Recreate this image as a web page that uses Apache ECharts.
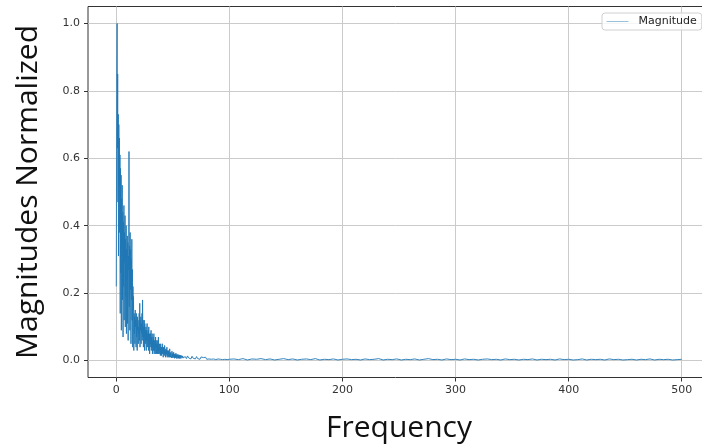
<!DOCTYPE html>
<html>
<head>
<meta charset="utf-8">
<title>Magnitude spectrum</title>
<script src="https://cdn.jsdelivr.net/npm/echarts@6/dist/echarts.min.js"></script>
<style>
  html, body { margin: 0; padding: 0; background: #fff; }
  #chart { width: 702px; height: 447px; }
</style>
</head>
<body>
<div id="chart"></div>
<script>
// tick labels
var xTicks = [0, 100, 200, 300, 400, 500];
var yTicks = [0.0, 0.2, 0.4, 0.6, 0.8, 1.0];

// 0 - 60 Hz, one bin every 0.25 Hz
var lowStart = 0, lowStep = 0.25;
var lowBand = [
  0.22, 0.58, 0.87, 1.00, 0.63, 0.85, 0.47, 0.73,
  0.31, 0.70, 0.52, 0.66, 0.38, 0.61, 0.14, 0.57,
  0.26, 0.55, 0.09, 0.48, 0.33, 0.52, 0.18, 0.44,
  0.07, 0.41, 0.22, 0.46, 0.12, 0.38, 0.29, 0.43,
  0.10, 0.36, 0.19, 0.40, 0.08, 0.33, 0.24, 0.37,
  0.11, 0.35, 0.06, 0.31, 0.27, 0.62, 0.16, 0.34,
  0.09, 0.38, 0.21, 0.33, 0.05, 0.30, 0.18, 0.36,
  0.12, 0.27, 0.04, 0.22, 0.15, 0.19, 0.03, 0.14,
  0.08, 0.13, 0.05, 0.15, 0.10, 0.12, 0.04, 0.14,
  0.07, 0.11, 0.03, 0.13, 0.09, 0.12, 0.05, 0.10,
  0.08, 0.14, 0.06, 0.17, 0.04, 0.12, 0.09, 0.13,
  0.05, 0.11, 0.08, 0.14, 0.06, 0.18, 0.07, 0.12,
  0.04, 0.10, 0.07, 0.12, 0.03, 0.11, 0.06, 0.09,
  0.05, 0.10, 0.03, 0.09, 0.06, 0.11, 0.04, 0.08,
  0.06, 0.09, 0.03, 0.10, 0.05, 0.08, 0.02, 0.07,
  0.04, 0.08, 0.05, 0.09, 0.03, 0.07, 0.04, 0.08,
  0.02, 0.06, 0.04, 0.07, 0.03, 0.08, 0.02, 0.06,
  0.03, 0.05, 0.02, 0.07, 0.04, 0.06, 0.02, 0.05,
  0.03, 0.06, 0.02, 0.05, 0.03, 0.07, 0.02, 0.04,
  0.02, 0.05, 0.03, 0.04, 0.015, 0.05, 0.02, 0.04,
  0.015, 0.04, 0.025, 0.05, 0.02, 0.035, 0.01, 0.04,
  0.02, 0.03, 0.015, 0.045, 0.02, 0.03, 0.01, 0.035,
  0.015, 0.03, 0.02, 0.04, 0.01, 0.03, 0.015, 0.025,
  0.01, 0.03, 0.015, 0.025, 0.01, 0.035, 0.012, 0.022,
  0.01, 0.025, 0.015, 0.02, 0.008, 0.028, 0.012, 0.02,
  0.008, 0.022, 0.012, 0.025, 0.009, 0.018, 0.007, 0.02,
  0.01, 0.018, 0.008, 0.022, 0.01, 0.016, 0.006, 0.019,
  0.009, 0.015, 0.007, 0.018, 0.008, 0.014, 0.006, 0.017,
  0.008, 0.014, 0.006, 0.016, 0.009, 0.013, 0.005, 0.015,
  0.007, 0.012, 0.006, 0.014, 0.008, 0.013, 0.005, 0.011,
  0.008
];

// 61 - 100 Hz, every 1 Hz
var midStart = 61, midStep = 1;
var midBand = [
  0.012, 0.006, 0.014, 0.008, 0.011, 0.005, 0.013, 0.007, 0.010, 0.005,
  0.012, 0.006, 0.009, 0.004, 0.011, 0.006, 0.009, 0.005, 0.010, 0.004,
  0.008, 0.005, 0.009, 0.004, 0.008, 0.005, 0.009, 0.003, 0.007, 0.005,
  0.008, 0.004, 0.007, 0.003, 0.008, 0.004, 0.006, 0.003, 0.007, 0.004
];

// 104 - 500 Hz, every 4 Hz
var tailStart = 104, tailStep = 4;
var tailBand = [
  0.005, 0.003, 0.006, 0.002, 0.005, 0.004, 0.006, 0.003, 0.005, 0.002,
  0.004, 0.006, 0.003, 0.005, 0.002, 0.004, 0.005, 0.003, 0.006, 0.002,
  0.004, 0.003, 0.005, 0.002, 0.004, 0.005, 0.003, 0.004, 0.002, 0.005,
  0.003, 0.004, 0.006, 0.002, 0.004, 0.003, 0.005, 0.002, 0.004, 0.003,
  0.005, 0.002, 0.004, 0.006, 0.003, 0.004, 0.002, 0.005, 0.003, 0.004,
  0.002, 0.005, 0.003, 0.004, 0.002, 0.004, 0.005, 0.003, 0.004, 0.002,
  0.005, 0.003, 0.004, 0.002, 0.004, 0.003, 0.005, 0.002, 0.004, 0.003,
  0.004, 0.002, 0.005, 0.003, 0.004, 0.002, 0.003, 0.005, 0.002, 0.004,
  0.003, 0.004, 0.002, 0.005, 0.003, 0.004, 0.002, 0.003, 0.004, 0.002,
  0.004, 0.003, 0.005, 0.002, 0.004, 0.003, 0.004, 0.002, 0.003, 0.004
];

var points = [];
function addBand(start, step, values) {
  for (var i = 0; i < values.length; i++) {
    points.push([start + i * step, values[i]]);
  }
}
addBand(lowStart, lowStep, lowBand);
addBand(midStart, midStep, midBand);
addBand(tailStart, tailStep, tailBand);

var dom = document.getElementById("chart");
var myChart = echarts.init(dom, null, { renderer: 'canvas' });
var labelFont = "'DejaVu Sans', sans-serif";
var bigFont = "'Open Sans', sans-serif";

var option = {
  animation: false,
  backgroundColor: '#fff',
  grid: {
    left: 88, top: 6.5, width: 622, height: 371,
    outerBoundsMode: 'none',
    containLabel: false,
    show: true, borderColor: '#333', borderWidth: 1
  },
  legend: {
    left: 602, top: 13,
    padding: [3, 5, 3, 4],
    itemWidth: 22, itemHeight: 12,
    borderColor: '#d0d0d0', borderWidth: 1, borderRadius: 3,
    backgroundColor: 'rgba(255,255,255,0.8)',
    itemStyle: { opacity: 0 },
    lineStyle: { color: 'inherit', width: 1, opacity: 0.45 },
    textStyle: { fontFamily: labelFont, fontSize: 11, color: '#222', padding: [0, 0, 0, 5] },
    data: ['Magnitude']
  },
  xAxis: {
    type: 'value', min: -25, max: 525,
    name: 'Frequency', nameLocation: 'middle', nameGap: 36,
    nameTextStyle: { fontFamily: bigFont, fontSize: 30, color: '#111' },
    axisLine: { show: false, onZero: false },
    axisTick: { show: true, inside: false, length: 4, customValues: xTicks, lineStyle: { color: '#333' } },
    axisLabel: { customValues: xTicks, margin: 7, fontFamily: labelFont, fontSize: 11, color: '#333' },
    splitLine: { show: true, lineStyle: { color: '#cbcbcb', width: 1 } }
  },
  yAxis: {
    type: 'value', min: -0.05, max: 1.05,
    name: 'Magnitudes Normalized', nameLocation: 'middle', nameRotate: 90, nameGap: 45,
    nameTextStyle: { fontFamily: bigFont, fontSize: 30, color: '#111' },
    axisLine: { show: false, onZero: false },
    axisTick: { show: true, inside: false, length: 4, customValues: yTicks, lineStyle: { color: '#333' } },
    axisLabel: {
      customValues: yTicks, margin: 8, fontFamily: labelFont, fontSize: 11, color: '#333',
      formatter: function (v) { return v.toFixed(1); }
    },
    splitLine: { show: true, lineStyle: { color: '#cbcbcb', width: 1 } }
  },
  series: [{
    name: 'Magnitude',
    type: 'line',
    symbol: 'none',
    sampling: null,
    color: '#1f77b4',
    lineStyle: { color: '#1f77b4', width: 0.9 },
    itemStyle: { color: '#1f77b4' },
    data: points
  }]
};

if (option && typeof option === "object") {
  myChart.setOption(option, true);
}
</script>
</body>
</html>
